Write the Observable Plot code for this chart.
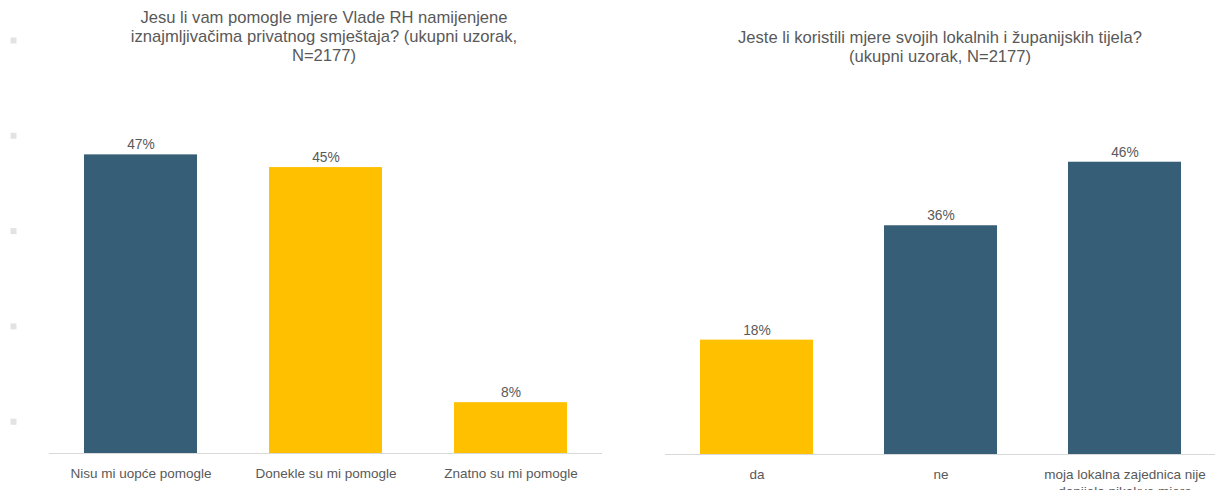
<!DOCTYPE html>
<html>
<head>
<meta charset="utf-8">
<script src="https://cdn.jsdelivr.net/npm/d3@7"></script>
<script src="https://cdn.jsdelivr.net/npm/@observablehq/plot@0.6"></script>
<style>
  body { margin: 0; background: #fff; font-family: "Liberation Sans", Arial, sans-serif; }
  #wrap { display: flex; width: 1215px; height: 490px; overflow: hidden; }
  .panel { position: relative; }
  .title { position: absolute; text-align: center; color: #595959; font-size: 16.6px; line-height: 19px; white-space: nowrap; transform: translateX(-50%); }
  svg { display: block; }
</style>
</head>
<body>
<div id="wrap">
  <div class="panel" id="left">
    <div class="title" style="left:324px; top:8px;">Jesu li vam pomogle mjere Vlade RH namijenjene<br>iznajmljivačima privatnog smještaja? (ukupni uzorak,<br>N=2177)</div>
  </div>
  <div class="panel" id="right">
    <div class="title" style="left:333px; top:28px;">Jeste li koristili mjere svojih lokalnih i županijskih tijela?<br>(ukupni uzorak, N=2177)</div>
  </div>
</div>
<script>
const leftCategories = ["Nisu mi uopće pomogle", "Donekle su mi pomogle", "Znatno su mi pomogle"];
const leftValues = [47, 45, 8];
const rightCategories = ["da", "ne", "moja lokalna zajednica nije donijela nikakve mjere"];
const rightValues = [18, 36, 46];
const leftMarkerTicks = [5, 20, 35, 50, 65];

const BLUE = "#375E77";
const YELLOW = "#FFC000";

function makePanel(cats, vals, colors, opts) {
  const data = cats.map((c, i) => ({cat: c, val: vals[i]}));
  const marks = [
    Plot.barY(data, {x: "cat", y: "val", fill: "cat"}),
    Plot.ruleY([0], {stroke: "#d9d9d9", strokeWidth: 1.2}),
    Plot.text(data, {x: "cat", y: "val", text: d => d.val + "%", dy: -10, fontSize: 13.8, fill: "#595959"}),
    Plot.axisX({tickSize: 0, tickPadding: opts.tickPadding, fontSize: 13.5, color: "#595959", lineHeight: 1.22, label: null,
      tickFormat: d => d === "moja lokalna zajednica nije donijela nikakve mjere" ? "moja lokalna zajednica nije\ndonijela nikakve mjere" : d})
  ];
  if (opts.markers) {
    marks.push(Plot.dot(opts.markers, {y: d => d, frameAnchor: "left", dx: opts.markerDx, symbol: "square", r: 3.4, fill: "#e3e3e3"}));
  }
  return Plot.plot({
    width: opts.width, height: 490,
    marginLeft: opts.ml, marginRight: opts.mr, marginTop: opts.mt, marginBottom: opts.mb,
    x: {domain: cats, paddingInner: 0.3875, paddingOuter: 0.1875, axis: null},
    y: {domain: [0, 65], axis: null},
    color: {domain: cats, range: colors},
    style: {fontFamily: "'Liberation Sans', Arial, sans-serif", color: "#595959", background: "transparent", overflow: "visible"},
    marks
  });
}

document.getElementById("left").prepend(makePanel(leftCategories, leftValues, [BLUE, YELLOW, YELLOW],
  {width: 607, ml: 49, mr: 5, mt: 40, mb: 37, tickPadding: 12.5, markers: leftMarkerTicks, markerDx: -36}));
document.getElementById("right").prepend(makePanel(rightCategories, rightValues, [YELLOW, BLUE, BLUE],
  {width: 608, ml: 58, mr: 0, mt: 41, mb: 36, tickPadding: 13}));
</script>
</body>
</html>
